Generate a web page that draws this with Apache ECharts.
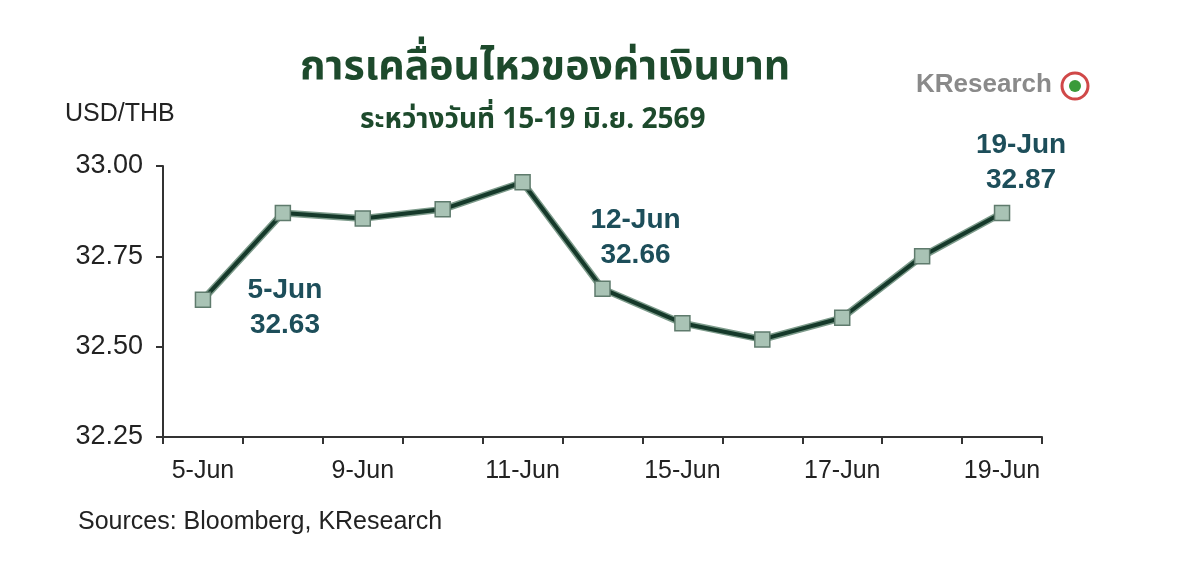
<!DOCTYPE html>
<html>
<head>
<meta charset="utf-8">
<style>
  html, body { margin: 0; padding: 0; background: #fff; }
  #chart { width: 1200px; height: 561px; }
</style>
<script src="https://cdn.jsdelivr.net/npm/echarts@6/dist/echarts.min.js"></script>
</head>
<body>
<div id="chart"></div>
<script>
// data
const days = ['5-Jun', '8-Jun', '9-Jun', '10-Jun', '11-Jun', '12-Jun', '15-Jun', '16-Jun', '17-Jun', '18-Jun', '19-Jun'];
const usdThb = [32.63, 32.87, 32.855, 32.88, 32.955, 32.66, 32.565, 32.52, 32.58, 32.75, 32.87];
const yTicks = [32.25, 32.5, 32.75, 33.0];
// points that carry a callout, with offset of the text block from the marker
const callouts = { 0: [82, 8], 5: [33, -51], 10: [19, -50] };

const font = '"Liberation Sans", Arial, sans-serif';
const thaiFont = 'Tahoma, "Noto Sans Thai", "Noto Sans", "DejaVu Sans", sans-serif';

const chart = echarts.init(document.getElementById('chart'));

const lineData = usdThb.map((v, i) => {
  if (!callouts[i]) return v;
  return {
    value: v,
    label: {
      show: true,
      position: 'inside',
      offset: callouts[i],
      align: 'center',
      verticalAlign: 'middle',
      formatter: (p) => p.name + '\n' + p.value.toFixed(2),
      color: '#1d4e5a',
      fontFamily: font,
      fontWeight: 'bold',
      fontSize: 28,
      lineHeight: 35,
    },
  };
});

chart.setOption({
  animation: false,
  backgroundColor: '#fff',
  grid: { left: 163, right: 158, top: 166, bottom: 124 },
  xAxis: {
    type: 'category',
    data: days,
    boundaryGap: true,
    axisLine: { lineStyle: { color: '#333', width: 2 } },
    axisTick: { show: true, interval: 0, length: 7, lineStyle: { color: '#333', width: 2 } },
    axisLabel: { interval: 1, color: '#222', fontFamily: font, fontSize: 25, margin: 22 },
    splitLine: { show: false },
  },
  yAxis: {
    type: 'value',
    min: yTicks[0],
    max: yTicks[yTicks.length - 1],
    interval: 0.25,
    axisLine: { show: true, lineStyle: { color: '#333', width: 2 } },
    axisTick: { show: true, length: 7, lineStyle: { color: '#333', width: 2 } },
    axisLabel: {
      color: '#222', fontFamily: font, fontSize: 27, margin: 20,
      formatter: (v) => v.toFixed(2),
    },
    splitLine: { show: false },
  },
  graphic: [
    {
      type: 'text', left: 300, top: 50,
      style: { text: 'การเคลื่อนไหวของค่าเงินบาท', fill: '#1d4a2c', font: 'bold 41px ' + thaiFont },
    },
    {
      type: 'text', left: 360, top: 108,
      style: { text: 'ระหว่างวันที่ 15-19 มิ.ย. 2569', fill: '#1d4a2c', font: 'bold 28px ' + thaiFont },
    },
    {
      type: 'text', left: 65, top: 102,
      style: { text: 'USD/THB', fill: '#222', font: '25px ' + font },
    },
    {
      type: 'text', left: 78, top: 510,
      style: { text: 'Sources: Bloomberg, KResearch', fill: '#222', font: '25px ' + font },
    },
    {
      type: 'text', left: 916, top: 72,
      style: { text: 'KResearch', fill: '#8a8a8a', font: 'bold 26px ' + font },
    },
    {
      type: 'circle', shape: { cx: 1075, cy: 86, r: 13 },
      style: { fill: '#fff', stroke: '#d04848', lineWidth: 3 },
    },
    {
      type: 'circle', shape: { cx: 1075, cy: 86, r: 6 },
      style: { fill: '#3a9a3a' },
    },
  ],
  series: [
    {
      type: 'line',
      data: usdThb,
      symbol: 'none',
      silent: true,
      lineStyle: { color: '#7d9b8b', width: 7 },
      z: 1,
    },
    {
      type: 'line',
      data: lineData,
      symbol: 'rect',
      symbolSize: 15,
      itemStyle: { color: '#a9c3b5', borderColor: '#5f7b6d', borderWidth: 1.5 },
      lineStyle: { color: '#15392a', width: 4 },
      z: 2,
    },
  ],
});
</script>
</body>
</html>
